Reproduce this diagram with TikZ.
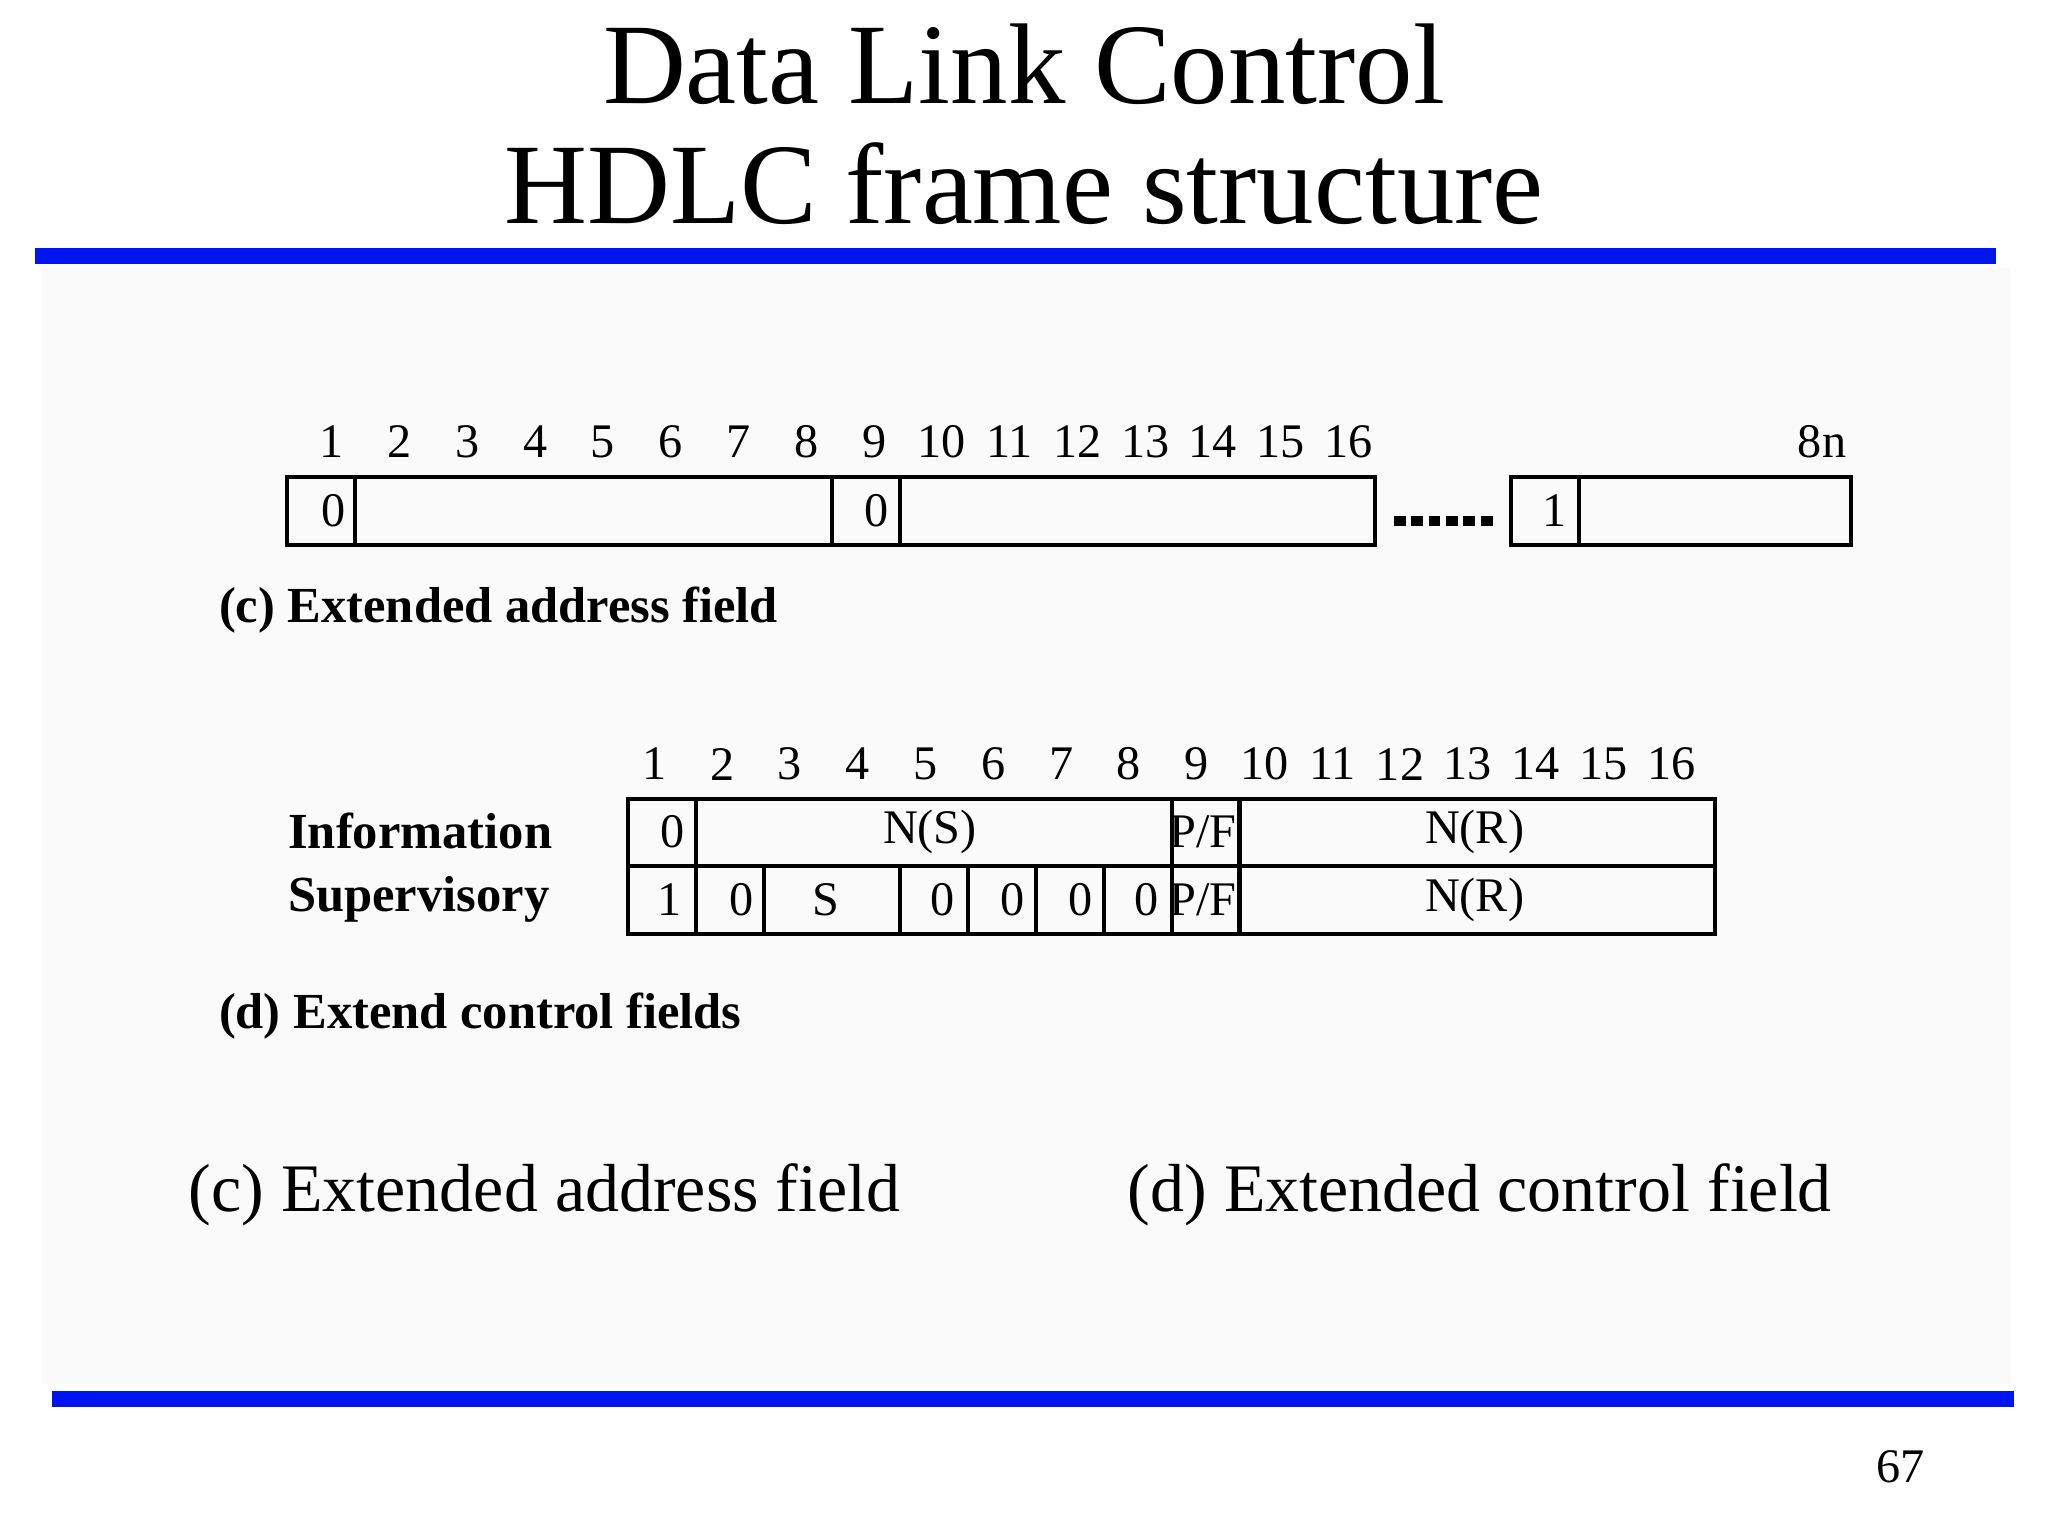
\documentclass[tikz,border=0pt]{standalone}
\usepackage{fontspec}
\setmainfont{Liberation Serif}
\begin{document}
\begin{tikzpicture}[x=0.01cm,y=-0.01cm,
  box/.style={draw=black,line width=0.9pt},
  num/.style={font=\fontsize{10.5}{12}\selectfont,inner sep=0pt},
  cell/.style={font=\fontsize{10.5}{12}\selectfont,inner sep=0pt},
  captext/.style={font=\fontsize{11}{13}\bfseries\selectfont,inner sep=0pt,anchor=west},
  bline/.style={draw={rgb,255:red,0;green,20;blue,240},line width=3.4pt}]
\useasboundingbox (0,0) rectangle (1568,1176);
\fill[white] (0,0) rectangle (1568,1176);
\fill[black!2] (32,205) rectangle (1540,1060);
\node[font=\fontsize{25}{28}\selectfont,align=center,inner sep=0pt] (title) at (784,95) {Data Link Control\\[-2pt] HDLC frame structure};
\draw[bline] (27,196) -- (1528,196);
\draw[bline] (40,1071) -- (1542,1071);
% (c)
\foreach \i in {1,...,16}{\node[num] (an\i) at ({254+51.9*(\i-1)},338) {\i};}
\node[num] (a8n) at (1395,338) {8n};
\draw[box] (220,365) rectangle (1053,417);
\foreach \x in {272,637,689}{\draw[box] (\x,365) -- (\x,417);}
\node[cell] (a0a) at (255,391) {0};
\node[cell] (a0b) at (671,391) {0};
\coordinate (d1) at (1067,399);
\coordinate (d2) at (1143,399);
\draw[line width=2.2pt,dash pattern=on 2.6pt off 1.2pt] (d1) -- (d2);
\draw[box] (1157,365) rectangle (1417,417);
\draw[box] (1209,365) -- (1209,417);
\node[cell] (a1) at (1190,391) {1};
\node[captext] (capc) at (167,467) {(c) Extended address field};
% (d)
\foreach \i in {1,...,16}{\node[num] (cn\i) at ({501+51.9*(\i-1)},585) {\i};}
\draw[box] (481,612) rectangle (1313,715);
\draw[box] (481,663) -- (1313,663);
\foreach \x in {533,897,949}{\draw[box] (\x,612) -- (\x,663);}
\foreach \x in {533,585,689,741,793,845,897,949}{\draw[box] (\x,663) -- (\x,715);}
\node[cell] (r1a) at (515,637) {0};
\node[cell] (r1b) at (712,637) {N(S)};
\node[cell] (r1c) at (921,637) {P/F};
\node[cell] (r1d) at (1129,637) {N(R)};
\node[cell] (r2a) at (513,689) {1};
\node[cell] (r2b) at (568,689) {0};
\node[cell] (r2c) at (632,689) {S};
\node[cell] (r2d) at (722,689) {0};
\node[cell] (r2e) at (775,689) {0};
\node[cell] (r2f) at (827,689) {0};
\node[cell] (r2g) at (878,689) {0};
\node[cell] (r2h) at (921,689) {P/F};
\node[cell] (r2i) at (1129,689) {N(R)};
\node[captext] (linf) at (220,636) {Information};
\node[captext] (lsup) at (220,689) {Supervisory};
\node[captext] (capd) at (167,778) {(d) Extend control fields};
% bottom
\node[font=\fontsize{14.8}{18}\selectfont,inner sep=0pt] (bc) at (417,915) {(c) Extended address field};
\node[font=\fontsize{14.8}{18}\selectfont,inner sep=0pt] (bd) at (1133,915) {(d) Extended control field};
\node[font=\fontsize{10.5}{12}\selectfont,inner sep=0pt] (pg) at (1455,1123) {67};
\end{tikzpicture}
\end{document}
